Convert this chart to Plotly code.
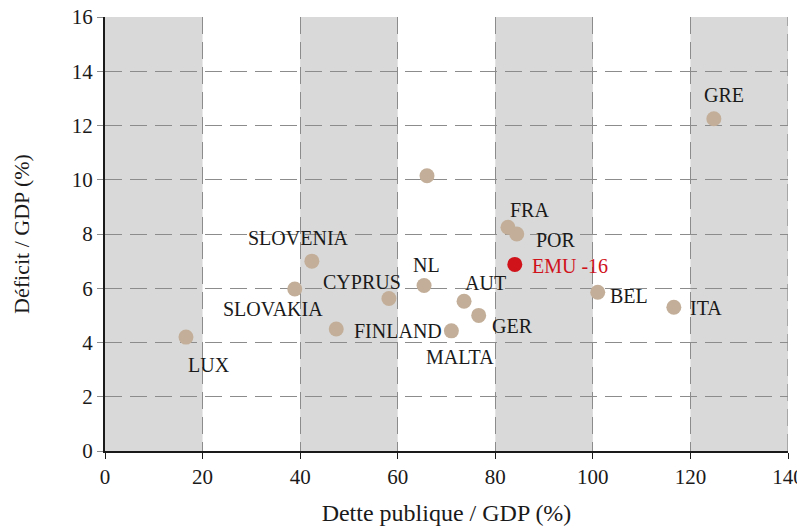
import plotly.graph_objects as go

# Data
countries = ["LUX", "SLOVAKIA", "SLOVENIA", "FINLAND", "CYPRUS", "NL", "", "MALTA",
             "AUT", "GER", "FRA", "POR", "EMU -16", "BEL", "ITA", "GRE"]
debt = [16.6, 38.9, 42.4, 47.4, 58.2, 65.4, 66.0, 71.0, 73.6, 76.6, 82.6, 84.4, 84.0, 101.0, 116.6, 124.8]
deficit = [4.2, 5.97, 7.0, 4.5, 5.62, 6.1, 10.15, 4.43, 5.52, 5.0, 8.25, 8.0, 6.88, 5.85, 5.3, 12.25]
x_ticks = [0, 20, 40, 60, 80, 100, 120, 140]
y_ticks = [0, 2, 4, 6, 8, 10, 12, 14, 16]
bands = [(0, 20), (40, 60), (80, 100), (120, 140)]

# Styling (label offsets in px: dx right, dy down)
label_offsets = {
    "LUX": (23, 28), "SLOVAKIA": (-22, 20), "SLOVENIA": (-13, -23), "FINLAND": (62, 2),
    "CYPRUS": (-27, -17), "NL": (2, -21), "MALTA": (9, 26), "AUT": (21, -18),
    "GER": (34, 11), "FRA": (22, -17), "POR": (39, 6), "EMU -16": (55, 2),
    "BEL": (31, 4), "ITA": (32, 1), "GRE": (10, -24),
}
TAN = "#c3af99"
RED = "#d0121b"
FONT = "Liberation Serif"
GRID = "#8c8c8c"
DASH = "17px,8px"

fig = go.Figure()

for x0, x1 in bands:
    fig.add_shape(type="rect", x0=x0, x1=x1, y0=0, y1=16, fillcolor="#d9d9d9",
                  line_width=0, layer="below")
# right-edge dashed gridline at the last x tick
fig.add_shape(type="line", x0=x_ticks[-1], x1=x_ticks[-1], y0=0, y1=16,
              line=dict(color=GRID, width=1.3, dash=DASH), layer="below")

colors = [RED if c.startswith("EMU") else TAN for c in countries]
fig.add_trace(go.Scatter(x=debt, y=deficit, mode="markers",
                         marker=dict(size=15, color=colors, line_width=0),
                         hoverinfo="skip", showlegend=False, cliponaxis=False))

for c, x, y in zip(countries, debt, deficit):
    if not c:
        continue
    dx, dy = label_offsets[c]
    fig.add_annotation(x=x, y=y, text=c, showarrow=False, xanchor="center", yanchor="middle",
                       xshift=dx, yshift=-dy,
                       font=dict(family=FONT, size=20, color=RED if c.startswith("EMU") else "#1a1a1a"))

# page body has an 8px margin, so the figure is sized/offset to land on the 805x526 window
fig.update_layout(
    width=797, height=518,
    margin=dict(l=97, r=17, t=9, b=75),
    plot_bgcolor="white", paper_bgcolor="white",
    font=dict(family=FONT, size=21, color="#1a1a1a"),
)
fig.update_xaxes(range=[0, 140], tickvals=x_ticks, showgrid=True, gridcolor=GRID,
                 griddash=DASH, gridwidth=1.3, zeroline=False, automargin=False,
                 ticklabeloverflow="allow",
                 showline=True, linecolor="#1a1a1a", linewidth=2,
                 ticks="outside", ticklen=6, tickcolor="#1a1a1a",
                 title=dict(text="Dette publique / GDP (%)", font=dict(size=24), standoff=20))
fig.update_yaxes(range=[0, 16], tickvals=y_ticks, showgrid=True, gridcolor=GRID,
                 griddash=DASH, gridwidth=1.3, zeroline=False, automargin=False,
                 ticklabeloverflow="allow",
                 showline=True, linecolor="#1a1a1a", linewidth=2,
                 ticks="outside", ticklen=6, tickcolor=GRID,
                 title=dict(text="Déficit / GDP (%)", font=dict(size=22), standoff=36))

fig.write_html("out.html")
